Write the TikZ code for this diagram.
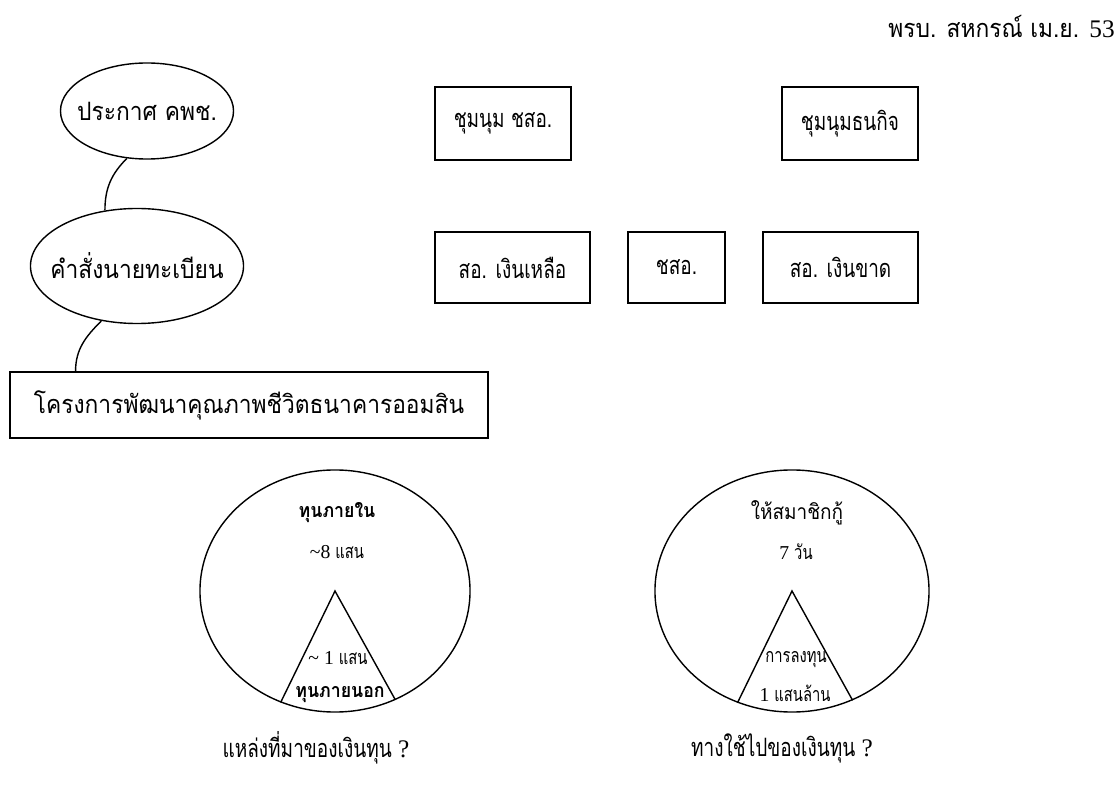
\documentclass[tikz,border=0pt]{standalone}
\usepackage{fontspec}
\setmainfont{Liberation Serif}
\newfontfamily\thai[Script=Thai, FakeStretch=0.75]{Loma}
\newfontfamily\thaiwide[Script=Thai, FakeStretch=0.9]{Loma}
\usepackage{tikz}
\usepackage{xcolor}
\usetikzlibrary{
    shapes.geometric,
    positioning
}
\definecolor{ink}{HTML}{000000}
\tikzset{
    % Rectangle box style
    box/.style={
        rectangle,
        draw=ink,
        line width=1pt,
        inner sep=0pt,
        align=center,
        font=\thai\fontsize{18}{21}\selectfont
    },
    % Ellipse style (text put on as a label)
    oval/.style={
        ellipse,
        draw=ink,
        line width=1pt,
        inner sep=0pt
    },
    % Big pie style
    pool/.style={
        ellipse,
        draw=ink,
        line width=1pt,
        inner sep=0pt
    },
    % Curved link style
    link/.style={
        line width=1pt,
        color=ink
    },
    % Big text style
    big text/.style={
        font=\thai\fontsize{18}{21}\selectfont,
        text=ink,
        inner sep=0pt
    },
    wide text/.style={
        font=\thaiwide\fontsize{18}{21}\selectfont,
        text=ink,
        inner sep=0pt
    },
    % Small text style
    small text/.style={
        font=\thai\fontsize{14}{17}\selectfont,
        text=ink,
        inner sep=0pt
    },
    small wide/.style={
        font=\thaiwide\fontsize{14}{17}\selectfont,
        text=ink,
        inner sep=0pt
    }
}

\begin{document}
\begin{tikzpicture}[x=0.025cm, y=0.025cm]

        \useasboundingbox (0,0) rectangle (1120,-787);

        % Header
        \node[wide text, anchor=east] (head) at (1115,-27) {พรบ. สหกรณ์ เม.ย. {\rmfamily 53}};

        % Left chain
        \node[oval, minimum width=4.325cm, minimum height=2.4cm,
              label={[wide text]center:ประกาศ คพช.}] (notice) at (147,-111) {};
        \node[oval, minimum width=5.325cm, minimum height=2.875cm,
              label={[wide text]center:คำสั่งนายทะเบียน}] (order) at (137,-266) {};
        \node[box, font=\thaiwide\fontsize{18}{21}\selectfont, minimum width=11.95cm, minimum height=1.65cm] (project) at (249,-405) {โครงการพัฒนาคุณภาพชีวิตธนาคารออมสิน};

        \draw[link] (notice.247) to[out=225, in=90] (order.120);
        \draw[link] (order.237) to[out=225, in=90] (project.169);

        % Top row
        \node[box, minimum width=3.4cm, minimum height=1.825cm] (sumnum) at (503,-123.5) {ชุมนุม ชสอ.};
        \node[box, minimum width=3.4cm, minimum height=1.825cm] (thanakit) at (850,-123.5) {ชุมนุมธนกิจ};

        % Second row
        \node[box, minimum width=3.875cm, minimum height=1.775cm] (surplus) at (512.5,-267.5) {สอ. เงินเหลือ};
        \node[box, minimum width=2.425cm, minimum height=1.775cm] (chso) at (676.5,-267.5) {ชสอ.};
        \node[box, minimum width=3.875cm, minimum height=1.775cm] (deficit) at (840.5,-267.5) {สอ. เงินขาด};

        % Source of funds
        \node[pool, minimum width=6.75cm, minimum height=6.05cm] (srcpool) at (335,-591) {};
        \draw[link] (srcpool.244) -- (srcpool.center) -- (srcpool.299);
        \node[small wide, font=\thaiwide\bfseries\fontsize{14}{17}\selectfont] (inside) at (337,-513) {ทุนภายใน};
        \node[small text] (insideval) at (337,-552) {{\rmfamily\textasciitilde 8} แสน};
        \node[small text] (outsideval) at (338,-658) {{\rmfamily\textasciitilde{} 1} แสน};
        \node[small wide, font=\thaiwide\bfseries\fontsize{14}{17}\selectfont] (outside) at (340,-695) {ทุนภายนอก};

        % Use of funds
        \node[pool, minimum width=6.85cm, minimum height=6.05cm] (usepool) at (792,-591) {};
        \draw[link] (usepool.244) -- (usepool.center) -- (usepool.299);
        \node[small wide, font=\thaiwide\fontsize{15}{18}\selectfont] (lend) at (797,-513) {ให้สมาชิกกู้};
        \node[small text] (lendval) at (796,-552) {{\rmfamily 7} วัน};
        \node[small text] (invest) at (796,-660) {การลงทุน};
        \node[small text] (investval) at (795,-693) {{\rmfamily 1} แสนล้าน};

        % Captions
        \node[big text] (srccap) at (316,-748) {แหล่งที่มาของเงินทุน {\rmfamily ?}};
        \node[big text] (usecap) at (782,-748) {ทางใช้ไปของเงินทุน {\rmfamily ?}};

    \end{tikzpicture}
\end{document}
